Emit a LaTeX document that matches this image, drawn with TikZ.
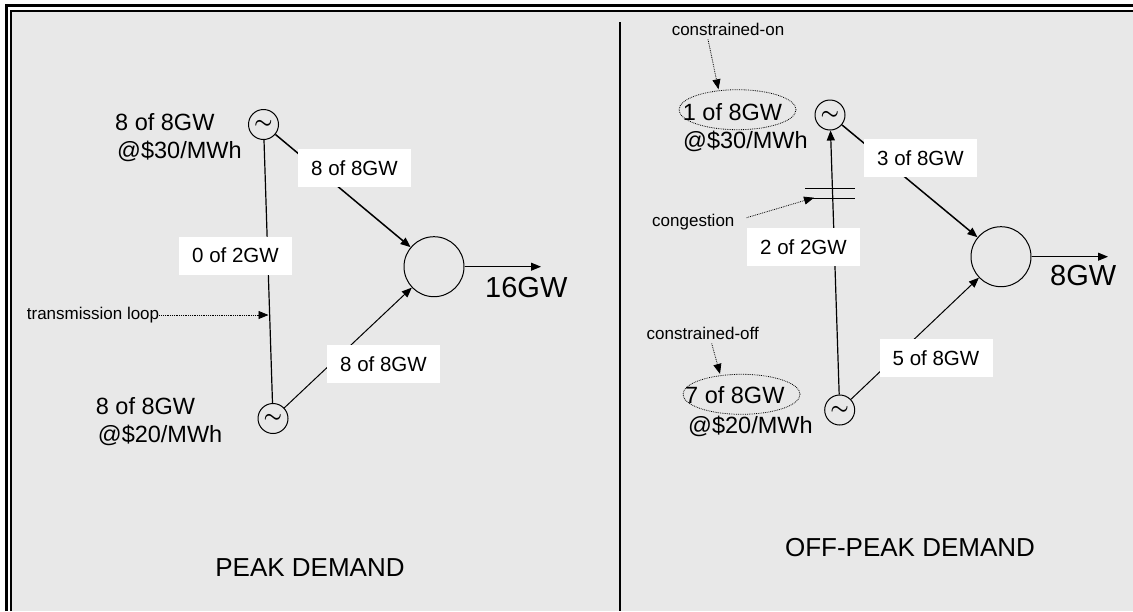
\documentclass[tikz,border=0pt]{standalone}
\usepackage{fontspec}
\setmainfont{Liberation Sans}
\usetikzlibrary{arrows.meta, shapes.geometric}
\definecolor{panelgray}{RGB}{232,232,232}

\begin{document}
\begin{tikzpicture}[x=1pt, y=-1pt, >={Triangle[length=10pt, width=8pt]},
  gen/.style={circle, draw, line width=1pt, minimum size=30pt, inner sep=0pt, font=\fontsize{22}{22}\selectfont\boldmath},
  bus/.style={circle, draw, line width=1pt, minimum size=60pt, inner sep=0pt},
  flowbox/.style={fill=white, minimum width=113pt, minimum height=38pt, inner sep=0pt, font=\fontsize{20.5}{24}\selectfont},
  gentext/.style={anchor=base west, inner sep=0pt, font=\fontsize{23.5}{28}\selectfont},
  demand/.style={anchor=base west, inner sep=0pt, font=\fontsize{29}{34}\selectfont},
  note/.style={inner sep=0pt, font=\fontsize{17}{20}\selectfont},
  pointer/.style={->, densely dotted, line width=0.8pt},
  onoff/.style={ellipse, draw, densely dotted, line width=0.8pt, minimum width=117pt, minimum height=40pt},
  title/.style={font=\fontsize{26}{30}\selectfont}]
\useasboundingbox (0,0) rectangle (1133,611);
% frame
\fill[white] (0,0) rectangle (1133,611);
\fill[panelgray] (12,12) rectangle (1133,611);
\draw[line width=3pt] (6.5,611) -- (6.5,5.5) -- (1133,5.5);
\draw[line width=2pt] (11,611) -- (11,11) -- (1133,11);
\draw[line width=1.2pt] (620,22) -- (620,611);

% (a) peak demand
\node[gen] (g1) at (263.5,124.5) {$\sim$};
\node[gen] (g2) at (273,418.5) {$\sim$};
\node[bus] (load1) at (434,266.7) {};
\coordinate (out1) at (541,266.7);
\draw[line width=1.2pt] (g1) -- (g2);
\draw[->, line width=1.5pt] (g1) -- (load1);
\draw[->, line width=1pt] (g2) -- (load1);
\draw[->, line width=1pt] (load1) -- (out1);
\node[flowbox] (f1) at (354.5,168) {8 of 8GW};
\node[flowbox] (f2) at (235.5,255.5) {0 of 2GW};
\node[flowbox] (f3) at (383.5,364) {8 of 8GW};
\node[gentext] (hi1) at (115,130) {8 of 8GW};
\node[gentext] (hi2) at (117,158) {@\$30/MWh};
\node[gentext] (lo1) at (95.7,414) {8 of 8GW};
\node[gentext] (lo2) at (97.7,442) {@\$20/MWh};
\node[demand] (d1) at (485,297) {16GW};
\node[note, anchor=west] (loop) at (26.7,315) {transmission loop};
\coordinate (loopmark) at (268.5,315);
\draw[pointer] (loop) -- (loopmark);
\node[title] (t1) at (310,568) {PEAK DEMAND};

% (b) off-peak demand
\node[gen] (g3) at (830,115) {$\sim$};
\node[gen] (g4) at (839.7,410) {$\sim$};
\node[bus] (load2) at (1001,256.7) {};
\coordinate (out2) at (1108,256.7);
\draw[->, line width=1.2pt] (g4) -- (g3);
\draw[->, line width=1.5pt] (g3) -- (load2);
\draw[->, line width=1pt] (g4) -- (load2);
\draw[->, line width=1pt] (load2) -- (out2);
\draw[line width=1pt] (805,188.3) -- (855,188.3) (805,198.3) -- (855,198.3);
\node[flowbox] (f4) at (920.5,158) {3 of 8GW};
\node[flowbox] (f5) at (803.5,247) {2 of 2GW};
\node[flowbox] (f6) at (936,358) {5 of 8GW};
\node[onoff] (on) at (737.5,109.7) {};
\node[gentext] (on1) at (682.7,120) {1 of 8GW};
\node[gentext] (on2) at (683,148) {@\$30/MWh};
\node[onoff] (off) at (741.5,394.3) {};
\node[gentext] (off1) at (685,403) {7 of 8GW};
\node[gentext] (off2) at (688,433) {@\$20/MWh};
\node[demand] (d2) at (1050,285) {8GW};
\node[note] (conon) at (728,29) {constrained-on};
\draw[pointer] ([xshift=-20pt, yshift=-4pt]conon.south) -- ([xshift=-19pt]on.north);
\node[note] (conoff) at (702.7,333) {constrained-off};
\draw[pointer] ([xshift=9pt, yshift=-4pt]conoff.south) -- ([xshift=-21.5pt]off.north);
\node[note, anchor=west] (cong) at (652,221.7) {congestion};
\coordinate (congmark) at (814,197.7);
\draw[pointer] ([xshift=12pt, yshift=4pt]cong.east) -- (congmark);
\node[title] (t2) at (910,548) {OFF-PEAK DEMAND};
\end{tikzpicture}
\end{document}
